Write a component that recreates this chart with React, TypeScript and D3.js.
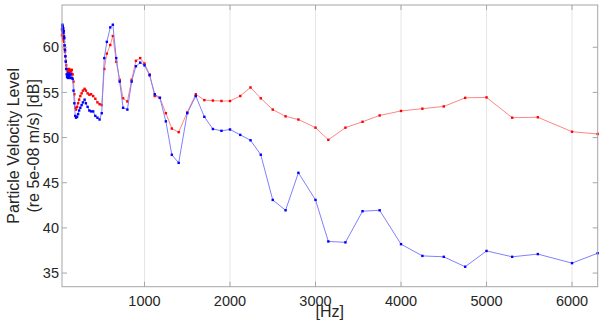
import React from "react";
import * as d3 from "d3";

const freqs = [35.5, 37.5, 40, 42.5, 45, 47.5, 50, 53, 56, 60, 63, 67, 71, 75, 80, 85, 90, 95, 100, 106, 112, 118, 125, 132, 140, 150, 160, 170, 180, 190, 200, 212, 224, 236, 250, 265, 280, 300, 315, 335, 355, 375, 400, 425, 450, 475, 500, 530, 560, 600, 630, 670, 710, 750, 800, 850, 900, 950, 1000, 1060, 1120, 1180, 1250, 1320, 1400, 1500, 1600, 1700, 1800, 1900, 2000, 2120, 2240, 2360, 2500, 2650, 2800, 3000, 3150, 3350, 3550, 3750, 4000, 4250, 4500, 4750, 5000, 5300, 5600, 6000, 6300];

const blueLevels = [62.0, 62.4, 62.5, 62.2, 62.3, 61.9, 62.1, 61.6, 61.8, 61.2, 61.0, 60.2, 59.7, 59.0, 58.4, 57.6, 57.0, 56.7, 56.9, 56.6, 57.1, 56.8, 57.0, 56.6, 57.0, 56.6, 56.5, 55.2, 53.8, 52.4, 52.2, 52.3, 52.6, 53.0, 53.3, 53.6, 53.9, 54.2, 53.8, 53.4, 53.0, 52.9, 52.9, 52.4, 52.2, 52.0, 52.7, 58.8, 60.6, 62.2, 62.5, 58.8, 56.2, 53.3, 53.1, 56.2, 57.9, 58.3, 58.0, 56.9, 54.8, 54.4, 51.8, 48.1, 47.2, 52.7, 54.6, 52.3, 50.95, 50.75, 50.9, 50.3, 49.7, 48.1, 43.1, 41.95, 46.1, 43.1, 38.5, 38.4, 41.85, 41.95, 38.2, 36.9, 36.8, 35.7, 37.45, 36.8, 37.1, 36.1, 37.2];

const redLevels = [61.3, 61.8, 62.0, 61.5, 61.7, 61.0, 61.4, 60.8, 61.0, 60.6, 60.2, 59.8, 59.5, 59.0, 58.5, 58.0, 57.6, 57.4, 57.2, 57.5, 57.3, 57.6, 57.2, 57.5, 57.3, 57.5, 57.0, 56.2, 54.8, 53.3, 53.1, 53.4, 53.8, 54.2, 54.6, 54.9, 55.2, 55.4, 55.2, 54.9, 54.75, 54.8, 54.6, 54.3, 53.9, 53.7, 53.6, 57.6, 59.3, 60.25, 61.25, 58.4, 56.4, 54.35, 54.0, 56.4, 58.5, 58.8, 58.2, 57.0, 54.6, 54.4, 52.7, 51.0, 50.6, 52.8, 54.8, 54.15, 54.1, 54.05, 54.05, 54.6, 55.55, 54.35, 53.1, 52.35, 52.0, 51.1, 49.75, 51.1, 51.75, 52.45, 52.95, 53.2, 53.45, 54.4, 54.45, 52.2, 52.25, 50.65, 50.4];

const xTicks = [1000, 2000, 3000, 4000, 5000, 6000];
const yTicks = [35, 40, 45, 50, 55, 60];

const W = 605;
const H = 324;
const left = 62;
const right = 597.7;
const top = 5;
const bottom = 286.7;

export default function App() {
  const x = d3.scaleLinear().domain([35.5, 6300]).range([left, right]);
  const y = d3.scaleLinear().domain([33.49, 64.68]).range([bottom, top]);

  const line = (vals: number[]) =>
    d3.line<number>().x((_, i) => x(freqs[i])).y((v) => y(v))(vals) || "";

  const series = [
    { vals: redLevels, line: "#ff8585", mark: "#ff0000" },
    { vals: blueLevels, line: "#8080ff", mark: "#0000ff" },
  ];

  const font = "'Liberation Sans', Arial, sans-serif";
  const axisColor = "#a6a6a6";
  const textColor = "#262626";

  return (
    <svg
      width={W}
      height={H}
      style={{ position: "absolute", left: 0, top: 0, background: "#fff" }}
      fontFamily={font}
    >
      {/* grid */}
      {xTicks.map((t) => (
        <line key={"g" + t} x1={x(t)} x2={x(t)} y1={top} y2={bottom} stroke="#e6e6e6" strokeWidth={1} />
      ))}
      {/* series */}
      {series.map((s, si) => (
        <g key={si}>
          <path d={line(s.vals)} fill="none" stroke={s.line} strokeWidth={1} />
          {s.vals.map((v, i) => (
            <rect key={i} x={x(freqs[i]) - 1.2} y={y(v) - 1.2} width={2.4} height={2.4} fill={s.mark} />
          ))}
        </g>
      ))}
      {/* box */}
      <rect x={left} y={top} width={right - left} height={bottom - top} fill="none" stroke={axisColor} strokeWidth={1} />
      {/* x ticks */}
      {xTicks.map((t) => (
        <g key={"xt" + t}>
          <line x1={x(t)} x2={x(t)} y1={bottom} y2={bottom - 5} stroke={axisColor} />
          <line x1={x(t)} x2={x(t)} y1={top} y2={top + 5} stroke={axisColor} />
          <text x={x(t)} y={306} textAnchor="middle" fontSize={14.5} fill={textColor}>
            {t}
          </text>
        </g>
      ))}
      {/* y ticks */}
      {yTicks.map((t) => (
        <g key={"yt" + t}>
          <line x1={left} x2={left + 5} y1={y(t)} y2={y(t)} stroke={axisColor} />
          <line x1={right} x2={right - 5} y1={y(t)} y2={y(t)} stroke={axisColor} />
          <text x={59} y={y(t)} dy="0.35em" textAnchor="end" fontSize={14.5} fill={textColor}>
            {t}
          </text>
        </g>
      ))}
      {/* x label */}
      <text x={(left + right) / 2} y={317} textAnchor="middle" fontSize={16} fill={textColor}>
        [Hz]
      </text>
      {/* y label */}
      <g transform={`translate(19, ${(top + bottom) / 2}) rotate(-90)`}>
        <text x={0} y={0} textAnchor="middle" fontSize={16} fill={textColor}>
          Particle Velocity Level
        </text>
        <text x={0} y={20} textAnchor="middle" fontSize={16} fill={textColor}>
          (re 5e-08 m/s) [dB]
        </text>
      </g>
    </svg>
  );
}
